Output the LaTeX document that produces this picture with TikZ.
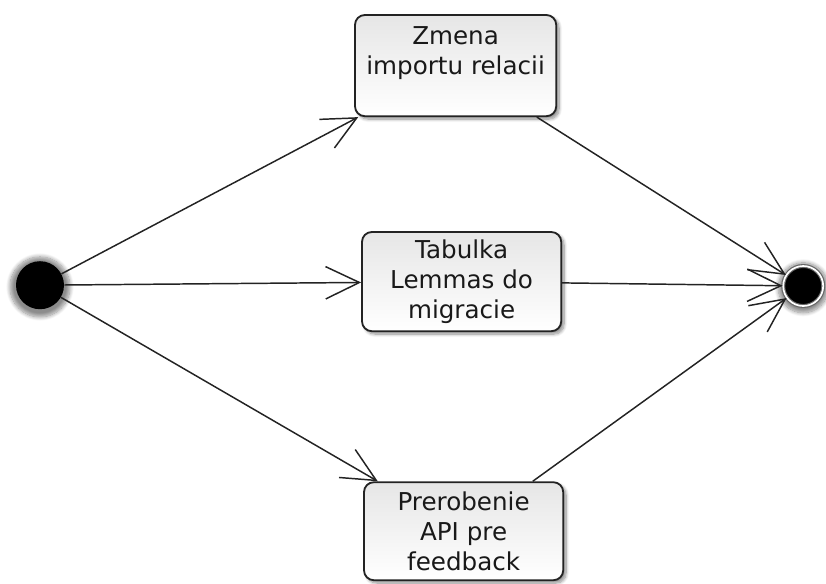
\documentclass[tikz,border=0pt]{standalone}
\usepackage{fontspec}
\setmainfont{DejaVu Sans}
\usetikzlibrary{arrows.meta, shadows.blur, positioning}
\definecolor{Edge}{RGB}{35, 35, 35}
\definecolor{BoxTop}{RGB}{230, 230, 230}

\begin{document}
\begin{tikzpicture}[
    state/.style={rectangle, rounded corners=7pt, draw=Edge, line width=1.3pt,
        top color=BoxTop, bottom color=white, minimum width=4.98cm, minimum height=2.48cm,
        align=center, text=black!90, font=\fontsize{17.5}{21.3}\selectfont,
        blur shadow={shadow xshift=2pt, shadow yshift=-2pt, shadow blur steps=8, shadow opacity=45}},
    flow/.style={draw=Edge, line width=1.05pt, -{Straight Barb[length=24pt, width=23pt, line width=1.05pt]}},
    initial/.style={circle, fill=black, minimum size=1.2cm, inner sep=0pt,
        blur shadow={shadow xshift=0pt, shadow yshift=-1pt, shadow scale=1.25, shadow blur steps=10, shadow opacity=45}},
    final/.style={circle, fill=black, draw=black!60, line width=0.8pt, double=white, double distance=1.2pt,
        minimum size=1.0cm, inner sep=0pt,
        blur shadow={shadow xshift=0pt, shadow yshift=-1pt, shadow scale=1.25, shadow blur steps=10, shadow opacity=45}}
]
    \useasboundingbox (0,0) rectangle (20.65,-14.575);

    % Start and end
    \node[initial] (start) at (1.0,-7.13) {};
    \node[final] (end) at (20.08,-7.15) {};

    % Activities
    \node[state, minimum width=5.03cm, minimum height=2.53cm] (zmena) at (11.39,-1.64) {Zmena\\importu relacii\\\mbox{}};
    \node[state] (tabulka) at (11.54,-7.04) {Tabulka\\Lemmas do\\migracie};
    \node[state, minimum height=2.45cm] (api) at (11.59,-13.28) {Prerobenie\\API pre\\feedback};

    % Transitions
    \draw[flow] (start) -- (zmena);
    \draw[flow] (start) -- (tabulka);
    \draw[flow] (start) -- (api);
    \draw[flow] (zmena) -- (end);
    \draw[flow] (tabulka) -- (end);
    \draw[flow] (api) -- (end);
\end{tikzpicture}
\end{document}
